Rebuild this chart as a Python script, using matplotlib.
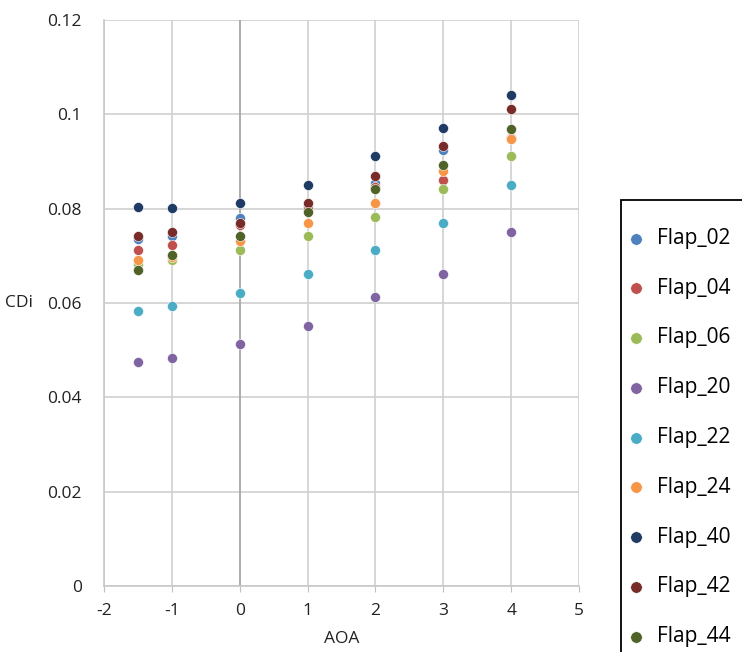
import matplotlib.pyplot as plt
from matplotlib.patches import Rectangle

aoa = [-1.5, -1, 0, 1, 2, 3, 4]
flap_02 = [0.0735, 0.0742, 0.0781, 0.0803, 0.0855, 0.0925, 0.0950]
flap_04 = [0.0712, 0.0722, 0.0765, 0.0800, 0.0845, 0.0861, 0.0950]
flap_06 = [0.0682, 0.0691, 0.0712, 0.0741, 0.0783, 0.0841, 0.0911]
flap_20 = [0.0474, 0.0484, 0.0513, 0.0551, 0.0612, 0.0661, 0.0751]
flap_22 = [0.0583, 0.0593, 0.0622, 0.0661, 0.0712, 0.0770, 0.0850]
flap_24 = [0.0691, 0.0698, 0.0731, 0.0770, 0.0812, 0.0880, 0.0948]
flap_40 = [0.0803, 0.0802, 0.0812, 0.0851, 0.0912, 0.0970, 0.1041]
flap_42 = [0.0742, 0.0751, 0.0770, 0.0812, 0.0870, 0.0932, 0.1011]
flap_44 = [0.0670, 0.0702, 0.0741, 0.0793, 0.0841, 0.0893, 0.0969]

names = ["Flap_02", "Flap_04", "Flap_06", "Flap_20", "Flap_22",
         "Flap_24", "Flap_40", "Flap_42", "Flap_44"]
series = [flap_02, flap_04, flap_06, flap_20, flap_22,
          flap_24, flap_40, flap_42, flap_44]
colors = ["#4f81bd", "#c0504d", "#9bbb59", "#8064a2", "#4bacc6",
          "#f79646", "#1f3b64", "#772c2a", "#4f6228"]

x_ticks = [-2, -1, 0, 1, 2, 3, 4, 5]
x_labels = ["-2", "-1", "0", "1", "2", "3", "4", "5"]
y_ticks = [0, 0.02, 0.04, 0.06, 0.08, 0.1, 0.12]
y_labels = ["0", "0.02", "0.04", "0.06", "0.08", "0.1", "0.12"]

plt.rcParams['font.family'] = ['Open Sans', 'DejaVu Sans']

fig = plt.figure(figsize=(7.42, 6.52), dpi=100)
ax = fig.add_axes([104 / 742, 1 - 586 / 652, 475 / 742, 566 / 652])

for name, vals, c in zip(names, series, colors):
    ax.scatter(aoa, vals, s=52, color=c, edgecolors="white",
               linewidths=0.4, label=name, zorder=3)

ax.set_xlim(-2, 5)
ax.set_ylim(0, 0.12)
ax.set_xticks(x_ticks)
ax.set_xticklabels(x_labels)
ax.set_yticks(y_ticks)
ax.set_yticklabels(y_labels)
ax.grid(True, color="#d0d0d0", linewidth=1.2, zorder=0)
ax.axvline(0, color="#a6a6a6", linewidth=1.2, zorder=1)
for s in ["top", "right"]:
    ax.spines[s].set_visible(False)
for s in ["left", "bottom"]:
    ax.spines[s].set_color("#c8c8c8")
    ax.spines[s].set_linewidth(1.2)
ax.tick_params(axis="x", length=4, color="#c0c0c0", labelsize=12.5,
               labelcolor="#222222", pad=8)
ax.tick_params(axis="y", length=0, labelsize=12.5,
               labelcolor="#222222", pad=16)
ax.set_axisbelow(True)

ax.set_xlabel("AOA", fontsize=12.5, color="#222222", labelpad=9)
ax.set_ylabel("CDi", fontsize=12.5, color="#222222", rotation=0,
              labelpad=20, va="center")

fig.patches.append(Rectangle((621 / 742, 1 - 665 / 652), 130 / 742,
                             465 / 652, transform=fig.transFigure,
                             fill=False, edgecolor="black", linewidth=1.3))
handles, labels = ax.get_legend_handles_labels()
leg = fig.legend(handles, labels, loc="upper left",
                 bbox_to_anchor=(626 / 742, 1 - 228 / 652),
                 frameon=False, fontsize=15, labelspacing=1.38,
                 handlelength=1.0, handletextpad=0.5, markerscale=1.15,
                 borderaxespad=0, borderpad=0)

fig.savefig("out.png", dpi=100)
